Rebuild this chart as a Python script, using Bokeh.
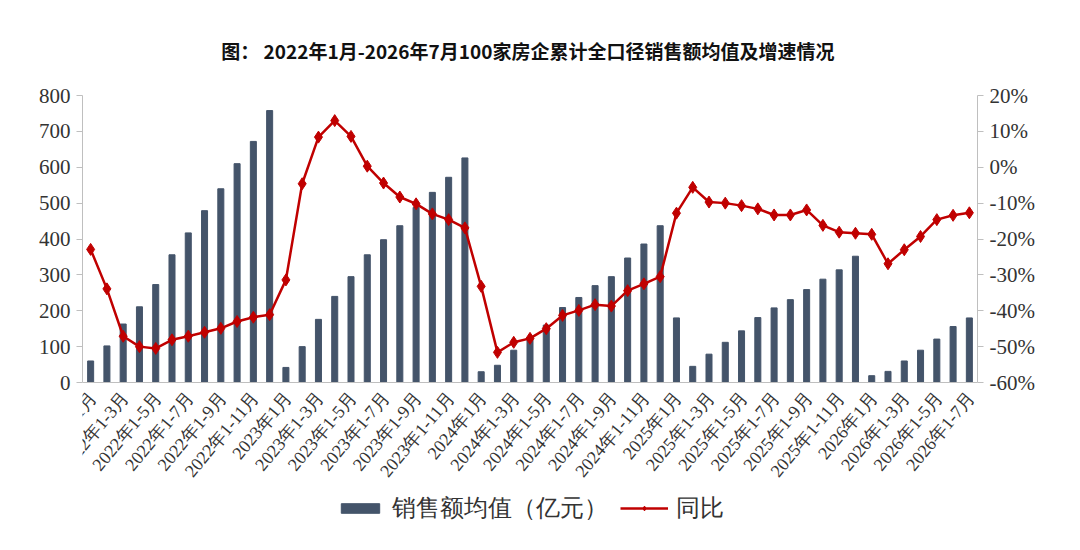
from math import radians

from bokeh.plotting import figure
from bokeh.models import (Range1d, LinearAxis, FixedTicker, PrintfTickFormatter,
                          Legend, LegendItem, Span)
from bokeh.core.properties import value
from bokeh.embed import file_html
from bokeh.resources import INLINE

# data
years = [2022, 2023, 2024, 2025, 2026]
months_per_year = [12, 12, 12, 12, 7]
periods = []
for y, n in zip(years, months_per_year):
    periods.append(f"{y}年1月")
    for m in range(2, n + 1):
        periods.append(f"{y}年1-{m}月")

# 销售额均值 (亿元)
sales_2022 = [60, 102, 163, 211, 273, 356, 417, 479, 540, 610, 672, 758]
sales_2023 = [42, 100, 176, 240, 295, 356, 398, 437, 488, 530, 572, 626]
sales_2024 = [30, 48, 90, 125, 160, 209, 237, 270, 295, 347, 386, 437]
sales_2025 = [180, 45, 79, 112, 144, 181, 208, 231, 259, 288, 314, 352]
sales_2026 = [19, 31, 60, 90, 121, 156, 180]

# 同比 (%)
yoy_2022 = [-22.9, -33.9, -47.1, -50.0, -50.5, -48.1, -47.1, -46.0, -44.9, -43.0, -41.8, -41.1]
yoy_2023 = [-31.4, -4.6, 8.4, 13.0, 8.6, 0.3, -4.4, -8.3, -10.2, -13.0, -14.6, -16.9]
yoy_2024 = [-33.2, -51.6, -48.8, -47.7, -45.0, -41.3, -39.9, -38.3, -38.7, -34.4, -32.5, -30.5]
yoy_2025 = [-12.8, -5.6, -9.7, -10.0, -10.7, -11.6, -13.3, -13.3, -11.9, -16.2, -18.1, -18.4]
yoy_2026 = [-18.7, -26.9, -23.0, -19.3, -14.6, -13.4, -12.7]

left_ticks = [0, 100, 200, 300, 400, 500, 600, 700, 800]
right_ticks = [-60, -50, -40, -30, -20, -10, 0, 10, 20]

sales = sales_2022 + sales_2023 + sales_2024 + sales_2025 + sales_2026
yoy = yoy_2022 + yoy_2023 + yoy_2024 + yoy_2025 + yoy_2026
xs = list(range(len(periods)))

BAR = "#44546A"
RED = "#C00000"
AXIS = "#BFBFBF"
SERIF = "Liberation Serif"

# the frame runs on below the zero line so that the date labels and the legend
# sit inside it (Bokeh's own below panel grew too tall for the window)
PLOT_H = 287      # px from 0 to 800
BELOW_H = 158     # px under the zero line
lo_left = -BELOW_H * (left_ticks[-1] - left_ticks[0]) / PLOT_H
lo_right = right_ticks[0] - BELOW_H * (right_ticks[-1] - right_ticks[0]) / PLOT_H

p = figure(frame_width=895, frame_height=PLOT_H + BELOW_H,
           x_range=Range1d(-0.5, len(periods) - 0.5),
           y_range=Range1d(lo_left, left_ticks[-1]),
           x_axis_location=None, output_backend="svg", toolbar_location=None,
           min_border_left=82, min_border_right=95, min_border_top=95, min_border_bottom=0)
p.extra_y_ranges = {"pct": Range1d(lo_right, right_ticks[-1])}

# title
p.title.text = "图：  2022年1月-2026年7月100家房企累计全口径销售额均值及增速情况"
p.title.align = "center"
p.title.text_font = "Noto Sans CJK SC"
p.title.text_font_size = "19px"
p.title.text_font_style = "bold"
p.title.text_color = "#111111"
p.title.standoff = 63

bars = p.vbar(x=xs, top=sales, width=0.37, color=BAR)
line = p.line(x=xs, y=yoy, y_range_name="pct", color=RED, line_width=2.5)
pts = p.scatter(x=xs, y=yoy, y_range_name="pct", marker="diamond", size=12, color=RED)

# zero line as the category axis
p.add_layout(Span(location=0, dimension="width", line_color=AXIS, line_width=1))

# date labels, every other period
p.text(x=xs[::2], y=[0] * len(xs[::2]), text=periods[::2], angle=radians(50),
       text_align="right", text_baseline="middle", y_offset=12, x_offset=2,
       text_font=value(SERIF), text_font_size="18px", text_color="#333333")

# left axis
p.yaxis.ticker = FixedTicker(ticks=left_ticks)
p.yaxis.bounds = (left_ticks[0], left_ticks[-1])

# right axis
right = LinearAxis(y_range_name="pct", ticker=FixedTicker(ticks=right_ticks),
                   bounds=(right_ticks[0], right_ticks[-1]),
                   formatter=PrintfTickFormatter(format="%d%%"))
p.add_layout(right, "right")

for ax in [p.yaxis[0], right]:
    ax.axis_line_color = AXIS
    ax.major_tick_line_color = AXIS
    ax.minor_tick_line_color = None
    ax.major_tick_out = 6
    ax.major_tick_in = 0
    ax.major_label_text_font = SERIF
    ax.major_label_text_font_size = "21px"
    ax.major_label_text_color = "#333333"
    ax.major_label_standoff = 6

p.xgrid.grid_line_color = None
p.ygrid.grid_line_color = None
p.outline_line_color = None

legend = Legend(items=[LegendItem(label="销售额均值（亿元）", renderers=[bars]),
                       LegendItem(label="同比", renderers=[line, pts])],
                orientation="horizontal", location=(254, 16),
                label_text_font=SERIF, label_text_font_size="24px", label_text_color="#333333",
                glyph_width=48, glyph_height=12, spacing=12, label_standoff=8, padding=2,
                margin=0, border_line_color=None, background_fill_alpha=0)
p.add_layout(legend)

open("out.html", "w").write(file_html(p, INLINE))
